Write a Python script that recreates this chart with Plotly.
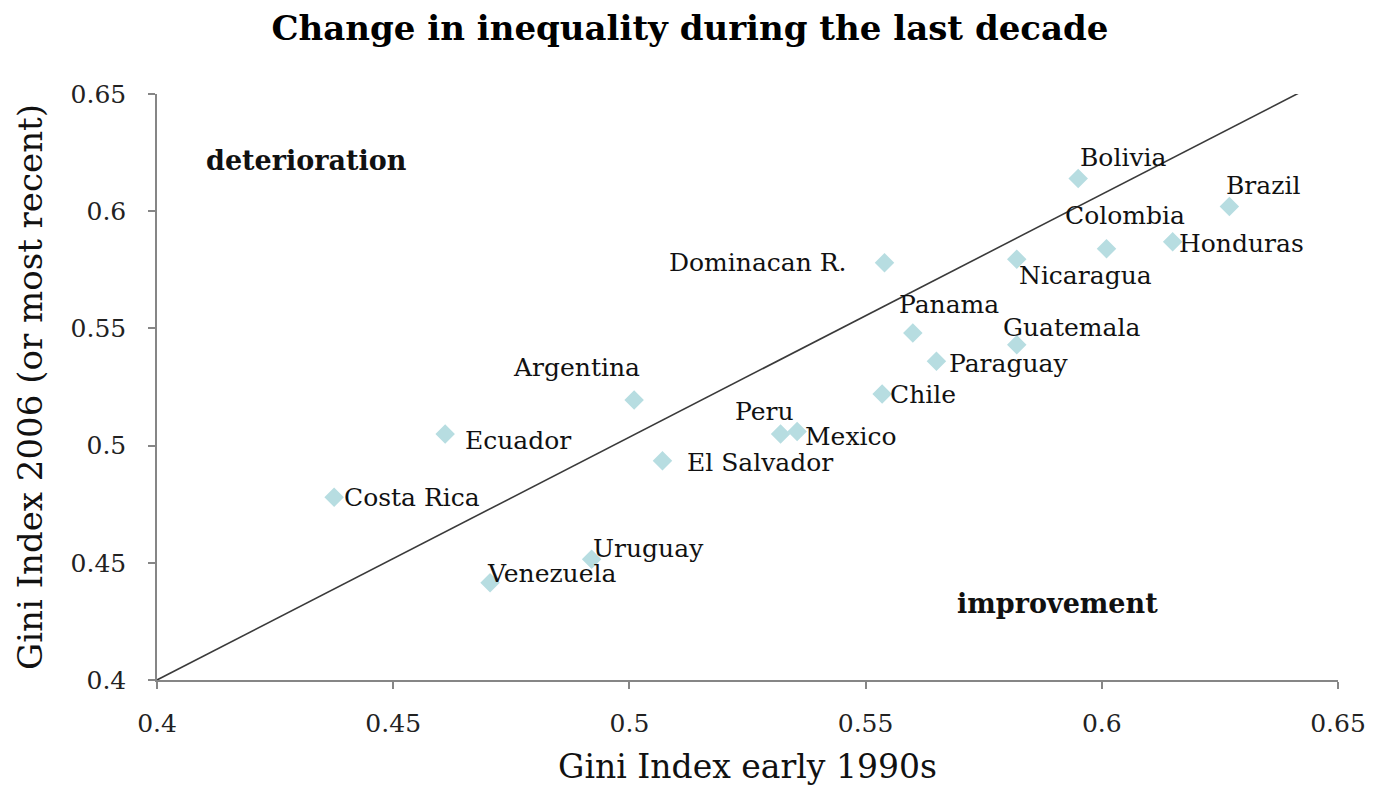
import plotly.graph_objects as go

countries = ["Bolivia", "Brazil", "Colombia", "Honduras", "Nicaragua", "Dominacan R.",
             "Panama", "Guatemala", "Paraguay", "Chile", "Argentina", "Peru", "Mexico",
             "El Salvador", "Ecuador", "Costa Rica", "Uruguay", "Venezuela"]
gini_early_1990s = [0.595, 0.627, 0.601, 0.615, 0.582, 0.554,
                    0.560, 0.582, 0.565, 0.5535, 0.501, 0.532, 0.5355,
                    0.507, 0.461, 0.4375, 0.492, 0.4705]
gini_2006 = [0.614, 0.602, 0.584, 0.587, 0.5795, 0.578,
             0.548, 0.543, 0.536, 0.522, 0.5195, 0.505, 0.506,
             0.4935, 0.505, 0.478, 0.4515, 0.4415]

# reference line endpoints (as drawn on the original chart)
line_x = [0.4, 0.6417]
line_y = [0.4, 0.6504]

tick_vals = [0.4, 0.45, 0.5, 0.55, 0.6, 0.65]
tick_text = ["0.4", "0.45", "0.5", "0.55", "0.6", "0.65"]

# label placement (pixel offsets, anchor)
label_pos = {
    "Bolivia": (0, 21, "left"),
    "Brazil": (-5, 21, "left"),
    "Colombia": (-44, 33, "left"),
    "Honduras": (4, -2, "left"),
    "Nicaragua": (0, -16, "left"),
    "Dominacan R.": (-36, 0, "right"),
    "Panama": (-16, 29, "left"),
    "Guatemala": (-16, 17, "left"),
    "Paraguay": (11, -2, "left"),
    "Chile": (6, 0, "left"),
    "Argentina": (8, 32, "right"),
    "Peru": (-48, 22, "left"),
    "Mexico": (6, -5, "left"),
    "El Salvador": (23, -2, "left"),
    "Ecuador": (18, -7, "left"),
    "Costa Rica": (8, 0, "left"),
    "Uruguay": (-1, 11, "left"),
    "Venezuela": (-5, 9, "left"),
}

FONT = "DejaVu Serif"

fig = go.Figure()
fig.add_trace(go.Scatter(x=line_x, y=line_y, mode="lines",
                         line=dict(color="#3a3a3a", width=1.6),
                         hoverinfo="skip", showlegend=False))
fig.add_trace(go.Scatter(x=gini_early_1990s, y=gini_2006, mode="markers",
                         marker=dict(symbol="diamond", size=15, color="#b7dde1"),
                         text=countries, showlegend=False))

for c, x, y in zip(countries, gini_early_1990s, gini_2006):
    dx, dy, anc = label_pos[c]
    fig.add_annotation(x=x, y=y, text=c, showarrow=False, xanchor=anc, yanchor="middle",
                       xshift=dx, yshift=dy, font=dict(family=FONT, size=25, color="#111111"))

fig.add_annotation(x=0.4, y=0.65, xref="x", yref="y", text="<b>deterioration</b>",
                   showarrow=False, xanchor="center", yanchor="middle",
                   xshift=149, yshift=-66, font=dict(family=FONT, size=27, color="#111111"))
fig.add_annotation(x=0.65, y=0.4, xref="x", yref="y", text="<b>improvement</b>",
                   showarrow=False, xanchor="center", yanchor="middle",
                   xshift=-281, yshift=77, font=dict(family=FONT, size=27, color="#111111"))

axis_common = dict(
    range=[0.4, 0.65], tickvals=tick_vals, ticktext=tick_text,
    showgrid=False, zeroline=False, showline=True, linecolor="#868686", linewidth=1.5,
    ticks="outside", ticklen=7, tickcolor="#868686", tickwidth=1.5,
    tickfont=dict(family=FONT, size=25, color="#222222"),
)

fig.update_layout(
    width=1375, height=799,
    margin=dict(l=149, r=45, t=86, b=127),
    paper_bgcolor="white", plot_bgcolor="white",
    title=dict(text="<b>Change in inequality during the last decade</b>",
               x=0.496, xanchor="center", xref="container", y=0.9745, yanchor="middle",
               font=dict(family=FONT, size=34, color="#000000")),
    xaxis=dict(**axis_common, ticklabelstandoff=13,
               title=dict(text="Gini Index early 1990s", standoff=18,
                          font=dict(family=FONT, size=33, color="#111111"))),
    yaxis=dict(**axis_common, ticklabelstandoff=17,
               title=dict(text="Gini Index 2006 (or most recent)", standoff=18,
                          font=dict(family=FONT, size=34, color="#111111"))),
)

fig.write_html("out.html")
